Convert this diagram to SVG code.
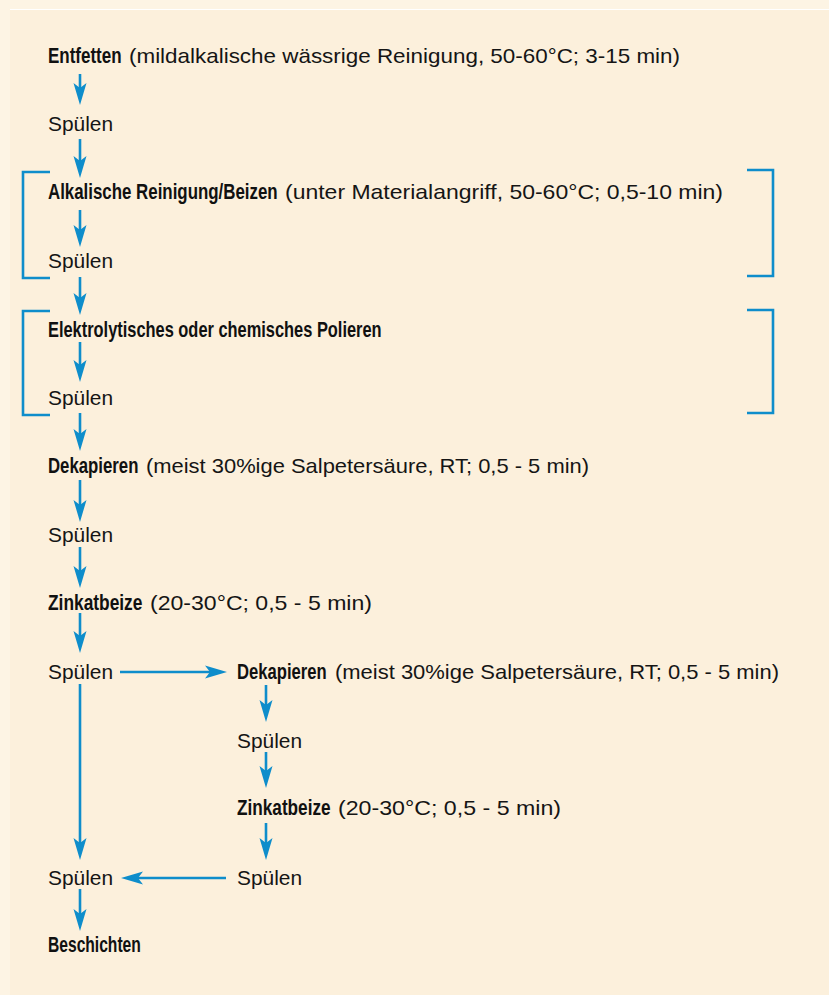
<svg xmlns="http://www.w3.org/2000/svg" width="829" height="995" viewBox="0 0 829 995">
<defs>
<style>
.t{font-family:"Liberation Sans",Arial,sans-serif;font-size:21px;fill:#151515}
.b{font-family:"Liberation Sans",Arial,sans-serif;font-size:22px;font-weight:bold;fill:#111}
.c{stroke:#0e8dcb;stroke-width:2.6;fill:none}
.k{stroke:#0e8dcb;stroke-width:2.6;fill:none}
</style>
<marker id="ah" markerUnits="userSpaceOnUse" markerWidth="24" markerHeight="14" viewBox="0 0 24 14" refX="5" refY="7" orient="auto">
<path d="M0,0.5 L22,7 L0,13.5 L5,7 Z" fill="#0e8dcb"/>
</marker>
</defs>
<rect x="0" y="0" width="829" height="995" fill="#fdf4e4"/>
<rect x="10" y="10" width="819" height="985" fill="#fcf0dc"/>
<line x1="10" y1="9.5" x2="829" y2="9.5" stroke="#ffffff" stroke-width="1.2"/>

<g id="brackets">
<path class="k" d="M50,172 H23 V278 H50"/>
<path class="k" d="M747,170 H773 V276 H747"/>
<path class="k" d="M50,311 H23 V415 H50"/>
<path class="k" d="M747,310 H773 V413 H747"/>
</g>

<g id="n1"><text class="b" transform="translate(48,63) scale(0.8,1)" textLength="92" lengthAdjust="spacingAndGlyphs">Entfetten</text><text class="t" x="129" y="63" textLength="551" lengthAdjust="spacingAndGlyphs">(mildalkalische wässrige Reinigung, 50-60°C; 3-15 min)</text></g>
<g id="n2"><text class="t" x="48" y="131" textLength="65" lengthAdjust="spacingAndGlyphs">Spülen</text></g>
<g id="n3"><text class="b" transform="translate(48,199) scale(0.8,1)" textLength="287" lengthAdjust="spacingAndGlyphs">Alkalische Reinigung/Beizen</text><text class="t" x="285" y="199" textLength="438" lengthAdjust="spacingAndGlyphs">(unter Materialangriff, 50-60°C; 0,5-10 min)</text></g>
<g id="n4"><text class="t" x="48" y="268" textLength="65" lengthAdjust="spacingAndGlyphs">Spülen</text></g>
<g id="n5"><text class="b" transform="translate(48,337) scale(0.8,1)" textLength="417" lengthAdjust="spacingAndGlyphs">Elektrolytisches oder chemisches Polieren</text></g>
<g id="n6"><text class="t" x="48" y="405" textLength="65" lengthAdjust="spacingAndGlyphs">Spülen</text></g>
<g id="n7"><text class="b" transform="translate(48,473) scale(0.8,1)" textLength="113" lengthAdjust="spacingAndGlyphs">Dekapieren</text><text class="t" x="146" y="473" textLength="443" lengthAdjust="spacingAndGlyphs">(meist 30%ige Salpetersäure, RT; 0,5 - 5 min)</text></g>
<g id="n8"><text class="t" x="48" y="542" textLength="65" lengthAdjust="spacingAndGlyphs">Spülen</text></g>
<g id="n9"><text class="b" transform="translate(48,610) scale(0.8,1)" textLength="118" lengthAdjust="spacingAndGlyphs">Zinkatbeize</text><text class="t" x="150" y="610" textLength="222" lengthAdjust="spacingAndGlyphs">(20-30°C; 0,5 - 5 min)</text></g>
<g id="n10"><text class="t" x="48" y="679" textLength="65" lengthAdjust="spacingAndGlyphs">Spülen</text></g>
<g id="n11"><text class="b" transform="translate(237,679) scale(0.8,1)" textLength="112" lengthAdjust="spacingAndGlyphs">Dekapieren</text><text class="t" x="335" y="679" textLength="444" lengthAdjust="spacingAndGlyphs">(meist 30%ige Salpetersäure, RT; 0,5 - 5 min)</text></g>
<g id="n12"><text class="t" x="237" y="748" textLength="65" lengthAdjust="spacingAndGlyphs">Spülen</text></g>
<g id="n13"><text class="b" transform="translate(237,815) scale(0.8,1)" textLength="117" lengthAdjust="spacingAndGlyphs">Zinkatbeize</text><text class="t" x="338" y="815" textLength="223" lengthAdjust="spacingAndGlyphs">(20-30°C; 0,5 - 5 min)</text></g>
<g id="n14"><text class="t" x="237" y="885" textLength="65" lengthAdjust="spacingAndGlyphs">Spülen</text></g>
<g id="n15"><text class="t" x="48" y="885" textLength="65" lengthAdjust="spacingAndGlyphs">Spülen</text></g>
<g id="n16"><text class="b" transform="translate(48,952) scale(0.8,1)" textLength="116" lengthAdjust="spacingAndGlyphs">Beschichten</text></g>

<g id="connectors" marker-end="url(#ah)">
<line class="c" x1="80" y1="74" x2="80" y2="88"/>
<line class="c" x1="80" y1="139" x2="80" y2="161"/>
<line class="c" x1="80" y1="210" x2="80" y2="230"/>
<line class="c" x1="80" y1="277" x2="80" y2="298"/>
<line class="c" x1="80" y1="342" x2="80" y2="365"/>
<line class="c" x1="80" y1="413" x2="80" y2="434"/>
<line class="c" x1="80" y1="480" x2="80" y2="505"/>
<line class="c" x1="80" y1="547" x2="80" y2="571"/>
<line class="c" x1="80" y1="613" x2="80" y2="636"/>
<line class="c" x1="80" y1="684" x2="80" y2="843"/>
<line class="c" x1="80" y1="889" x2="80" y2="914"/>
<line class="c" x1="266" y1="685" x2="266" y2="705"/>
<line class="c" x1="266" y1="752" x2="266" y2="771"/>
<line class="c" x1="266" y1="823" x2="266" y2="843"/>
<line class="c" x1="120" y1="672" x2="210" y2="672"/>
<line class="c" x1="226" y1="878" x2="138" y2="878"/>
</g>
</svg>
